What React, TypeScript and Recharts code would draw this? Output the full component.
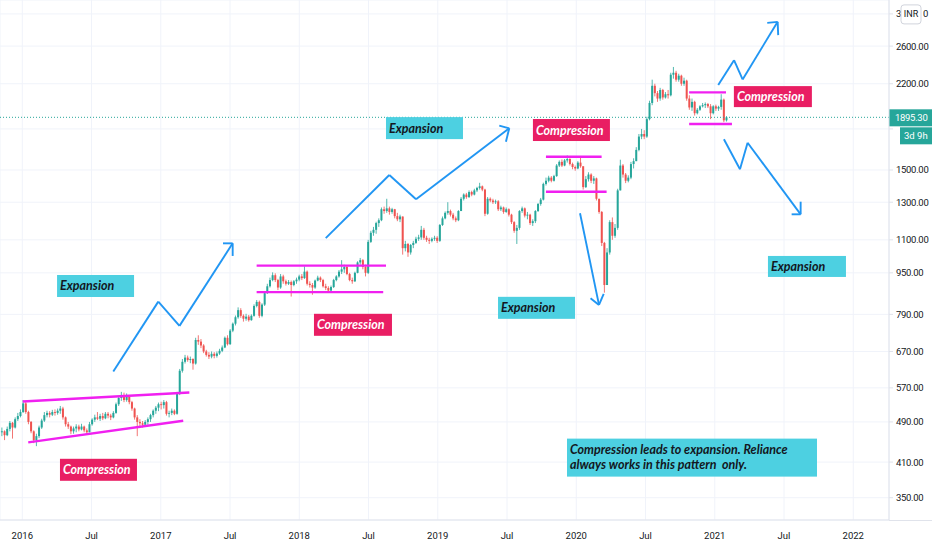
import React from 'react';
import { ComposedChart, Bar, XAxis, YAxis, CartesianGrid, ReferenceLine, ReferenceDot } from 'recharts';

// weekly bars, first one is the week of 9 Nov 2015 (as fractional year)
const firstWeek = 2015.855;
const firstOpen = 468;
const lastPrice = 1895.3;

const closes = [
  470, 462, 475, 488, 478, 496, 503, 512, 532, 512,
  490, 470, 452, 460, 478, 493, 505, 510, 506, 512,
  510, 515, 520, 500, 485, 480, 470, 476, 480, 474,
  480, 472, 468, 485, 495, 500, 497, 503, 498, 508,
  504, 500, 510, 530, 545, 552, 540, 548, 535, 520,
  500, 490, 487, 484, 490, 496, 505, 515, 522, 530,
  528, 535, 508, 510, 515, 508, 555, 615, 640, 652,
  645, 648, 635, 705, 700, 688, 670, 660, 655, 663,
  657, 664, 672, 682, 712, 692, 735, 758, 780, 805,
  785, 775, 782, 770, 785, 820, 835, 785, 825, 868,
  895, 920, 940, 920, 890, 935, 915, 905, 912, 900,
  915, 922, 935, 928, 955, 905, 900, 890, 918, 930,
  920, 895, 888, 878, 892, 920, 935, 955, 965, 975,
  945, 920, 915, 950, 995, 1005, 975, 950, 1090, 1135,
  1150, 1185, 1200, 1260, 1250, 1265, 1245, 1260, 1222, 1205,
  1220, 1060, 1080, 1040, 1075, 1085, 1105, 1112, 1150, 1110,
  1100, 1095, 1105, 1110, 1095, 1175, 1210, 1240, 1250, 1230,
  1210, 1200, 1250, 1320, 1345, 1330, 1360, 1345, 1370, 1385,
  1395, 1375, 1235, 1320, 1310, 1300, 1305, 1260, 1270, 1245,
  1260, 1230, 1190, 1145, 1160, 1250, 1265, 1225, 1230, 1185,
  1195, 1250, 1290, 1315, 1410, 1430, 1450, 1430, 1460, 1530,
  1555, 1530, 1565, 1575, 1540, 1520, 1510, 1550, 1525, 1390,
  1440, 1470, 1430, 1445, 1320, 1245, 1085, 900, 1040, 1190,
  1120, 1160, 1370, 1530, 1470, 1430, 1450, 1540, 1560, 1640,
  1740, 1760, 1740, 1880, 2020, 2180, 2110, 2060, 2140, 2070,
  2100, 2090, 2290, 2310, 2240, 2280, 2200, 2230, 2060, 1980,
  2030, 1930, 1960, 1990, 2000, 2010, 1990, 1930, 1990, 1970,
  1985, 2050, 1870, 1895,
];

const highs = [
  478, 472, 480, 492, 490, 500, 510, 518, 540, 538,
  515, 492, 472, 465, 482, 497, 512, 515, 514, 517,
  518, 520, 526, 524, 502, 490, 482, 480, 485, 484,
  486, 482, 476, 490, 498, 506, 512, 508, 510, 512,
  512, 508, 514, 534, 550, 560, 558, 556, 550, 538,
  522, 505, 496, 492, 494, 500, 508, 518, 526, 534,
  536, 540, 538, 515, 520, 518, 560, 620, 648, 660,
  658, 655, 650, 712, 720, 708, 692, 675, 668, 670,
  668, 670, 678, 688, 716, 720, 740, 762, 786, 815,
  812, 790, 792, 788, 790, 826, 842, 840, 830, 875,
  905, 930, 952, 948, 925, 945, 942, 922, 920, 918,
  920, 930, 942, 945, 978, 960, 915, 908, 922, 938,
  935, 925, 905, 895, 898, 925, 940, 962, 1005, 985,
  980, 950, 930, 955, 1000, 1015, 1010, 985, 1100, 1145,
  1165, 1192, 1210, 1270, 1275, 1320, 1275, 1268, 1262, 1240,
  1230, 1215, 1095, 1085, 1080, 1095, 1115, 1125, 1170, 1160,
  1120, 1110, 1112, 1120, 1118, 1180, 1220, 1248, 1300, 1258,
  1240, 1220, 1255, 1330, 1352, 1355, 1370, 1368, 1380, 1392,
  1417, 1400, 1380, 1330, 1328, 1320, 1315, 1312, 1280, 1275,
  1270, 1265, 1235, 1195, 1175, 1255, 1275, 1270, 1245, 1235,
  1205, 1255, 1295, 1325, 1418, 1450, 1462, 1460, 1468, 1540,
  1565, 1572, 1575, 1600, 1580, 1550, 1530, 1560, 1595, 1525,
  1460, 1485, 1478, 1460, 1450, 1320, 1250, 1090, 1060, 1200,
  1215, 1180, 1380, 1570, 1540, 1480, 1465, 1555, 1580, 1660,
  1760, 1800, 1790, 1900, 2040, 2240, 2200, 2130, 2160, 2150,
  2120, 2140, 2310, 2370, 2330, 2300, 2290, 2260, 2240, 2090,
  2060, 2040, 1975, 2000, 2020, 2025, 2020, 2010, 2000, 2005,
  1995, 2100, 2060, 1905,
];

const lows = [
  460, 452, 460, 470, 455, 476, 492, 500, 510, 508,
  485, 466, 446, 440, 456, 475, 490, 500, 500, 503,
  504, 506, 508, 495, 480, 475, 464, 465, 468, 470,
  472, 468, 465, 468, 482, 490, 494, 492, 494, 496,
  498, 494, 498, 508, 526, 538, 535, 536, 530, 515,
  495, 460, 480, 478, 480, 484, 490, 500, 508, 514,
  518, 520, 504, 500, 505, 505, 506, 552, 610, 635,
  640, 636, 618, 632, 690, 680, 665, 655, 648, 650,
  650, 652, 660, 668, 680, 688, 690, 730, 752, 775,
  778, 765, 768, 765, 768, 782, 815, 778, 780, 820,
  865, 890, 915, 912, 880, 885, 905, 898, 900, 855,
  895, 905, 915, 920, 925, 898, 890, 862, 885, 915,
  912, 890, 880, 872, 875, 888, 915, 930, 945, 950,
  940, 915, 905, 912, 948, 985, 965, 935, 945, 1085,
  1120, 1130, 1165, 1195, 1235, 1240, 1230, 1235, 1210, 1195,
  1190, 1030, 1045, 1020, 1030, 1060, 1080, 1095, 1100, 1100,
  1090, 1080, 1088, 1095, 1085, 1090, 1170, 1205, 1230, 1220,
  1200, 1190, 1195, 1250, 1310, 1320, 1325, 1335, 1340, 1360,
  1375, 1365, 1222, 1230, 1300, 1290, 1290, 1250, 1250, 1235,
  1240, 1220, 1180, 1135, 1080, 1150, 1240, 1215, 1205, 1175,
  1170, 1185, 1245, 1280, 1310, 1400, 1420, 1420, 1425, 1455,
  1520, 1520, 1525, 1550, 1530, 1505, 1495, 1505, 1515, 1375,
  1385, 1425, 1415, 1410, 1310, 1235, 1070, 870, 900, 1030,
  1100, 1110, 1150, 1370, 1450, 1415, 1420, 1440, 1510, 1560,
  1630, 1720, 1720, 1730, 1870, 2000, 2080, 2030, 2040, 2050,
  2060, 2060, 2080, 2250, 2220, 2220, 2180, 2180, 2040, 1960,
  1950, 1910, 1920, 1950, 1980, 1975, 1975, 1880, 1920, 1950,
  1950, 1960, 1855, 1860,
];

const yTicks = [350, 410, 490, 570, 670, 790, 950, 1100, 1300, 1500, 1800, 2200, 2600, 3000];
const xTicks = [2016, 2016.5, 2017, 2017.5, 2018, 2018.5, 2019, 2019.5, 2020, 2020.5, 2021, 2021.5, 2022];

// drawings: [year, price]
const trendLines = [
  [[2016.003, 536.7], [2017.206, 558.5]],
  [[2016.043, 447.5], [2017.162, 492.5]],
  [[2017.692, 981], [2018.626, 981]],
  [[2017.692, 872], [2018.606, 872]],
  [[2019.781, 1591], [2020.183, 1591]],
  [[2019.781, 1362], [2020.219, 1362]],
  [[2020.815, 2117], [2021.081, 2117]],
  [[2020.815, 1840], [2021.124, 1840]],
];

const arrows = [
  { path: [[2016.657, 612.8], [2016.982, 836], [2017.135, 750.7], [2017.519, 1083]], head: [[2017.449, 1083], [2017.519, 1024]] },
  { path: [[2018.191, 1108], [2018.65, 1467], [2018.843, 1317], [2019.516, 1805]], head: [[2019.444, 1826], [2019.492, 1700]] },
  { path: [[2020.027, 1238], [2020.164, 824]], head: [[2020.103, 849], [2020.198, 865]] },
  { path: [[2021.025, 2187], [2021.139, 2443], [2021.201, 2243], [2021.454, 2896]], head: [[2021.379, 2883], [2021.458, 2730]] },
  { path: [[2021.066, 1719], [2021.182, 1505], [2021.237, 1693], [2021.62, 1232]], head: [[2021.555, 1232], [2021.62, 1303]] },
];

const notes = [
  { lines: ['Expansion'], at: [2016.251, 941], w: 77, h: 22, kind: 'exp' },
  { lines: ['Compression'], at: [2016.272, 416], w: 77, h: 22, kind: 'comp' },
  { lines: ['Compression'], at: [2018.106, 792], w: 78, h: 22, kind: 'comp' },
  { lines: ['Expansion'], at: [2018.626, 1897], w: 77, h: 22, kind: 'exp' },
  { lines: ['Compression'], at: [2019.687, 1881], w: 77, h: 22, kind: 'comp' },
  { lines: ['Expansion'], at: [2019.435, 854], w: 77, h: 22, kind: 'exp' },
  { lines: ['Compression'], at: [2021.138, 2177], w: 78, h: 21, kind: 'comp' },
  { lines: ['Expansion'], at: [2021.384, 1024], w: 78, h: 21, kind: 'exp' },
  { lines: ['Compression leads to expansion. Reliance', 'always works in this pattern  only.'], at: [2019.933, 455], w: 250, h: 38, kind: 'exp' },
];

const candles = closes.map((c, i) => {
  const o = i === 0 ? firstOpen : closes[i - 1];
  const h = Math.max(highs[i], o, c);
  const l = Math.min(lows[i], o, c);
  return { t: firstWeek + (i * 7) / 365.25, o, h, l, c, range: [l, h] };
});

const axisFont = 'Roboto, "DejaVu Sans", sans-serif';

const Candle = (props: any) => {
  const { x, y, width, height, payload } = props;
  if (!payload || y == null) return null;
  const top = Math.min(y, y + height);
  const bottom = Math.max(y, y + height);
  const lh = Math.log(payload.h);
  const span = lh - Math.log(payload.l) || 1;
  const py = (v: number) => top + ((lh - Math.log(v)) / span) * (bottom - top);
  const up = payload.c >= payload.o;
  const color = up ? '#26a69a' : '#ef5350';
  const cx = x + width / 2;
  const b1 = py(Math.max(payload.o, payload.c));
  const b2 = py(Math.min(payload.o, payload.c));
  return (
    <g>
      <line x1={cx} x2={cx} y1={top} y2={bottom} stroke={color} strokeWidth={0.8} />
      <rect x={cx - 1} y={b1} width={2} height={Math.max(0.8, b2 - b1)} fill={color} />
    </g>
  );
};

const PriceTick = (props: any) => {
  const { x, y, payload } = props;
  const v = payload.value;
  // 1800 sits under the last-price badge, 3000 under the currency badge
  if (v === 1800) return null;
  if (v === 3000) {
    return (
      <g>
        <text x={x} y={y + 3.5} fontSize={9.5} fill="#131722" fontFamily={axisFont}>3</text>
        <rect x={x + 5} y={y - 9} width={20} height={19} rx={3} fill="#fff" stroke="#d1d4dc" />
        <text x={x + 15} y={y + 3.5} fontSize={9} fill="#131722" textAnchor="middle" fontFamily={axisFont}>
          INR
        </text>
        <text x={x + 27} y={y + 3.5} fontSize={9.5} fill="#131722" fontFamily={axisFont}>0</text>
      </g>
    );
  }
  return (
    <text x={x} y={y + 3.5} fontSize={9.5} fill="#131722" fontFamily={axisFont} letterSpacing={-0.3}>
      {v.toFixed(2)}
    </text>
  );
};

const LastPriceBadge = (props: any) => {
  const vb = props.viewBox || {};
  const x = vb.x + vb.width;
  const y = vb.y;
  return (
    <g>
      <rect x={x} y={y - 8} width={43} height={17} fill="#26a69a" />
      <text x={x + 6} y={y + 4} fontSize={9.5} fill="#fff" fontFamily={axisFont} letterSpacing={-0.3}>
        {lastPrice.toFixed(2)}
      </text>
      <rect x={x + 11} y={y + 10} width={32} height={17} fill="#26a69a" />
      <text x={x + 15} y={y + 22} fontSize={9.5} fill="#fff" fontFamily={axisFont}>
        3d 9h
      </text>
    </g>
  );
};

const NoteBox = (props: any) => {
  const { cx, cy, note } = props;
  if (cx == null) return null;
  const comp = note.kind === 'comp';
  const multi = note.lines.length > 1;
  return (
    <g>
      <rect x={cx} y={cy} width={note.w} height={note.h} fill={comp ? '#e91e63' : '#4dd0e1'} />
      {note.lines.map((ln: string, k: number) => (
        <text
          key={k}
          x={cx + 3}
          y={cy + (multi ? 15 : note.h / 2 + 4.5) + k * 15}
          fontSize={12.5}
          fontFamily="Lato, sans-serif"
          fontStyle="italic"
          fontWeight={700}
          fill={comp ? '#ffffff' : '#131722'}
          style={{ whiteSpace: 'pre' }}
        >
          {ln}
        </text>
      ))}
    </g>
  );
};

const segmentsOf = (pts: number[][]) =>
  pts.slice(1).map((p, k) => [
    { x: pts[k][0], y: pts[k][1] },
    { x: p[0], y: p[1] },
  ]);

const App = () => {
  const magenta = '#f020f0';
  const blue = '#2196f3';

  return (
    <div style={{ position: 'absolute', left: 0, top: 0, width: 932, height: 550, background: '#fff' }}>
      <ComposedChart width={932} height={550} data={candles} margin={{ top: 0, right: 0, left: 0, bottom: 0 }}>
        <CartesianGrid stroke="#f0f3fa" />
        <XAxis
          type="number"
          dataKey="t"
          domain={[2015.839, 2022.258]}
          allowDataOverflow
          ticks={xTicks}
          interval={0}
          height={30}
          tickLine={false}
          tickMargin={6}
          axisLine={{ stroke: '#e0e3eb' }}
          tick={{ fontSize: 9.5, fill: '#131722', fontFamily: axisFont }}
          tickFormatter={(v: number) => (Number.isInteger(v) ? String(v) : 'Jul')}
        />
        <YAxis
          orientation="right"
          scale="log"
          domain={[317, 3191]}
          allowDataOverflow
          ticks={yTicks}
          interval={0}
          width={43}
          tickSize={4}
          tickMargin={3}
          axisLine={{ stroke: '#e0e3eb' }}
          tickLine={{ stroke: '#e0e3eb' }}
          tick={<PriceTick />}
        />
        <Bar dataKey="range" barSize={2} shape={<Candle />} isAnimationActive={false} />
        {trendLines.map((ln, k) => (
          <ReferenceLine key={`t${k}`} segment={segmentsOf(ln)[0]} stroke={magenta} strokeWidth={2.4} />
        ))}
        {arrows.map((a, k) =>
          segmentsOf(a.path)
            .concat(a.head.map((h) => [{ x: h[0], y: h[1] }, { x: a.path[a.path.length - 1][0], y: a.path[a.path.length - 1][1] }]))
            .map((seg, j) => (
              <ReferenceLine key={`a${k}-${j}`} segment={seg} stroke={blue} strokeWidth={1.9} />
            ))
        )}
        {notes.map((n, k) => (
          <ReferenceDot
            key={`n${k}`}
            x={n.at[0]}
            y={n.at[1]}
            r={0}
            shape={(p: any) => <NoteBox {...p} note={n} />}
          />
        ))}
        <ReferenceLine
          y={lastPrice}
          stroke="#26a69a"
          strokeDasharray="1 2"
          label={(p: any) => <LastPriceBadge {...p} />}
        />
      </ComposedChart>
      <div style={{ position: 'absolute', left: 889, top: 520, width: 43, height: 1, background: '#e0e3eb' }} />
    </div>
  );
};

export default App;
